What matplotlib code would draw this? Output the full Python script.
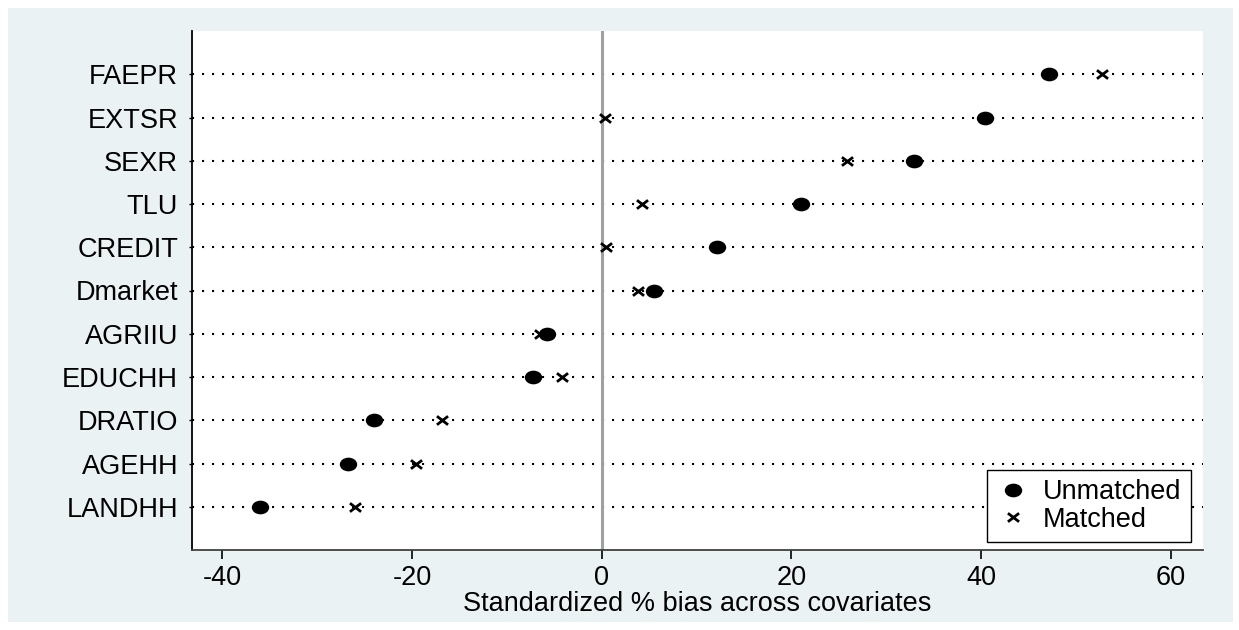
import matplotlib.pyplot as plt
from matplotlib.patches import Rectangle
from matplotlib.path import Path
from matplotlib.transforms import Affine2D

variables = ["FAEPR", "EXTSR", "SEXR", "TLU", "CREDIT", "Dmarket",
             "AGRIIU", "EDUCHH", "DRATIO", "AGEHH", "LANDHH"]
unmatched = [47.2, 40.4, 32.9, 21.0, 12.2, 5.5, -5.8, -7.2, -24.0, -26.7, -36.0]
matched = [52.7, 0.3, 25.9, 4.2, 0.5, 3.8, -6.5, -4.2, -16.8, -19.6, -26.0]
xticks = [-40, -20, 0, 20, 40, 60]

plt.rcParams['font.family'] = ['Liberation Sans', 'DejaVu Sans']
FS = 19.5

W, H = 1239, 630
fig = plt.figure(figsize=(W / 100, H / 100), dpi=100, facecolor="white")

# stata-style graph region, behind the axes
fig.patches.append(Rectangle((8 / W, 8 / H), (1233 - 8) / W, (622 - 8) / H,
                             transform=fig.transFigure, facecolor="#eaf2f3",
                             edgecolor="none", zorder=-10))

ax = fig.add_axes([192 / W, (H - 550) / H, (1203 - 192) / W, (550 - 31) / H])
ax.set_facecolor("white")

# the original graph is a bit stretched sideways, so the markers are too
dot = Path.unit_circle().transformed(Affine2D().scale(1.3, 1.0))
cross = Path([(-1.3, -1), (1.3, 1), (-1.3, 1), (1.3, -1)],
             [Path.MOVETO, Path.LINETO, Path.MOVETO, Path.LINETO])

n = len(variables)
ypos = list(range(n, 0, -1))

# dotted row lines
for y in ypos:
    ax.axhline(y, color="black", lw=1.5, linestyle=(0, (1, 3.8)), zorder=1)

ax.axvline(0, color="#a0a0a0", lw=2.2, zorder=2)

ax.plot(unmatched, ypos, linestyle="none", marker=dot, color="black", ms=11.5,
        label="Unmatched", zorder=3)
ax.plot(matched, ypos, linestyle="none", marker=cross, color="black", ms=8,
        mew=2, mfc="none", label="Matched", zorder=3)

ax.set_xlim(-43.2, 63.4)
ax.set_ylim(0, n + 1)
ax.set_xticks(xticks)
ax.set_xticklabels([str(t) for t in xticks])
ax.set_yticks(ypos)
ax.set_yticklabels(variables)
ax.tick_params(axis="x", direction="out", length=6.5, width=1.2, labelsize=FS, pad=4)
ax.tick_params(axis="y", direction="out", length=2, width=1.0, labelsize=FS, pad=8)

for s in ["top", "right"]:
    ax.spines[s].set_visible(False)
ax.spines["left"].set_color("black")
ax.spines["left"].set_linewidth(1.3)
ax.spines["bottom"].set_color("#404040")
ax.spines["bottom"].set_linewidth(1.3)

ax.set_xlabel("Standardized % bias across covariates", fontsize=FS, labelpad=0)

leg = ax.legend(loc="lower right", bbox_to_anchor=(0.988, 0.015), fontsize=FS,
                fancybox=False, edgecolor="black", framealpha=1,
                handletextpad=0.5, borderpad=0.35, labelspacing=0.05,
                handlelength=1.2, borderaxespad=0)
leg.get_frame().set_linewidth(1.0)

fig.savefig("out.png", dpi=100, facecolor="white")
